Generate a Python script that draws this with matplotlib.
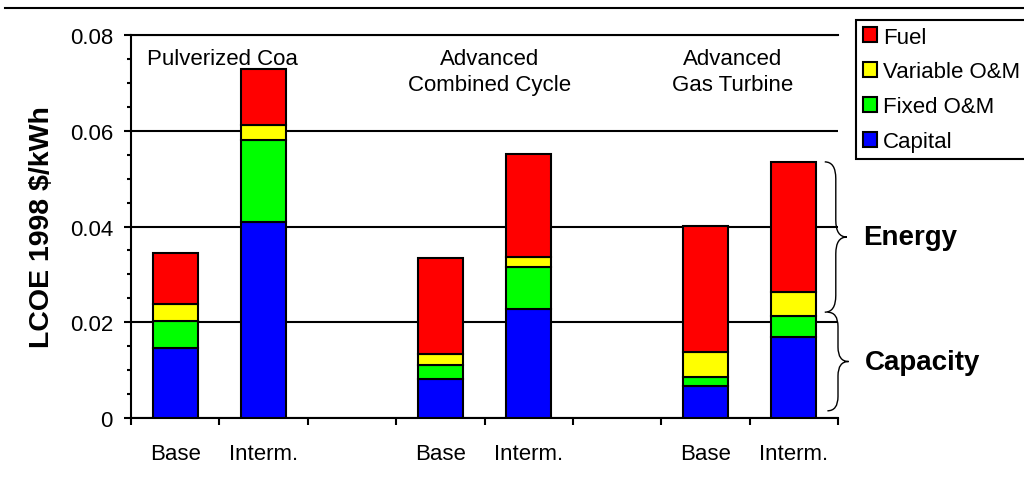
import matplotlib
matplotlib.use("Agg")
import matplotlib.pyplot as plt
from matplotlib.path import Path
from matplotlib.patches import PathPatch, Patch
from matplotlib.lines import Line2D
import numpy as np

plt.rcParams["font.family"] = ["Liberation Sans", "DejaVu Sans"]

# Data (1998 $/kWh)
slots = [0, 1, 3, 4, 6, 7]          # bar positions (slots 2 and 5 stay empty)
xlabels = ["Base", "Interm.", "", "Base", "Interm.", "", "Base", "Interm."]
capital = [0.0146, 0.0409, 0.0081, 0.0228, 0.0067, 0.0169]
fixed_om = [0.0057, 0.0172, 0.0030, 0.0087, 0.0019, 0.0044]
var_om = [0.0035, 0.0031, 0.0023, 0.0021, 0.0052, 0.0050]
fuel = [0.0107, 0.0117, 0.0200, 0.0215, 0.0263, 0.0272]
groups = ["Pulverized Coa", "Advanced\nCombined Cycle", "Advanced\nGas Turbine"]
group_x = [1.03, 4.06, 6.81]

colors = {"Capital": "#0000FF", "Fixed O&M": "#00FF00",
          "Variable O&M": "#FFFF00", "Fuel": "#FF0000"}
LW = 1.5
FS = 16

fig = plt.figure(figsize=(10.24, 4.85), dpi=100)
ax = fig.add_axes([131/1024, 66/485, 707/1024, 383/485])

x = np.array(slots) + 0.5
bottom = np.zeros(len(slots))
for name, vals in [("Capital", capital), ("Fixed O&M", fixed_om),
                   ("Variable O&M", var_om), ("Fuel", fuel)]:
    ax.bar(x, vals, width=0.51, bottom=bottom, color=colors[name],
           edgecolor="black", linewidth=LW, zorder=3)
    bottom += np.array(vals)

ax.set_xlim(0, 8)
ax.set_ylim(0, 0.08)
ax.set_axisbelow(True)

# y axis
ax.set_yticks(np.arange(0, 0.081, 0.02))
ax.set_yticklabels(["0", "0.02", "0.04", "0.06", "0.08"])
ax.set_yticks(np.arange(0, 0.081, 0.005), minor=True)
ax.tick_params(axis="y", which="major", length=5, width=LW, pad=8, labelsize=FS)
ax.tick_params(axis="y", which="minor", length=3, width=LW)
ax.yaxis.grid(True, which="major", color="black", linewidth=LW)
ax.set_ylabel("LCOE 1998 $/kWh", fontsize=20.5, fontweight="bold")
ax.yaxis.set_label_coords(-0.107, 0.5)

# x axis: tick marks at slot boundaries, labels at slot centres
ax.set_xticks(np.arange(0, 9))
ax.set_xticklabels([])
ax.set_xticks(np.arange(8) + 0.5, minor=True)
ax.set_xticklabels(xlabels, minor=True)
ax.tick_params(axis="x", which="major", length=5, width=LW, direction="out")
ax.tick_params(axis="x", which="minor", length=0, pad=18, labelsize=FS)

for s in ["left", "bottom", "top"]:
    ax.spines[s].set_linewidth(LW)
ax.spines["right"].set_visible(False)

for gx, g in zip(group_x, groups):
    ax.text(gx, 0.0773, g, ha="center", va="top", fontsize=FS, linespacing=1.3)


# braces on the right of the last bar
def brace(ax, x0, y0, y1, w, h):
    ym = (y0 + y1) / 2
    xm = x0 + w / 2
    verts = [(x0, y1), (xm, y1), (xm, y1 - h), (xm, ym + h), (xm, ym), (x0 + w, ym),
             (xm, ym), (xm, ym - h), (xm, y0 + h), (xm, y0), (x0, y0)]
    codes = [Path.MOVETO, Path.CURVE3, Path.CURVE3, Path.LINETO, Path.CURVE3, Path.CURVE3,
             Path.CURVE3, Path.CURVE3, Path.LINETO, Path.CURVE3, Path.CURVE3]
    ax.add_patch(PathPatch(Path(verts, codes), fill=False, lw=1.0,
                           edgecolor="black", clip_on=False, zorder=4))
    return ym


top = bottom[-1]
split = capital[-1] + fixed_om[-1] + 0.0008
ym_e = brace(ax, 7.85, split, top, 0.25, 0.0035)
ym_c = brace(ax, 7.88, 0.0015, split, 0.24, 0.003)
ax.text(8.28, ym_e, "Energy", fontsize=20, fontweight="bold", va="center")
ax.text(8.30, ym_c, "Capacity", fontsize=20, fontweight="bold", va="center")

# legend
handles = [Patch(facecolor=colors[n], edgecolor="black", linewidth=LW)
           for n in ["Fuel", "Variable O&M", "Fixed O&M", "Capital"]]
leg = fig.legend(handles, ["Fuel", "Variable O&M", "Fixed O&M", "Capital"],
                 loc="upper left", bbox_to_anchor=(856/1024, 1 - 21/485),
                 borderaxespad=0, fontsize=FS, handlelength=0.65, handleheight=0.65,
                 handletextpad=0.25, labelspacing=0.62, borderpad=0.3,
                 fancybox=False, framealpha=1)
leg.get_frame().set_edgecolor("black")
leg.get_frame().set_linewidth(LW)

# rule across the top of the figure
fig.add_artist(Line2D([5/1024, 1], [1 - 9/485, 1 - 9/485], color="black", lw=LW))

fig.savefig("out.png", dpi=100)
